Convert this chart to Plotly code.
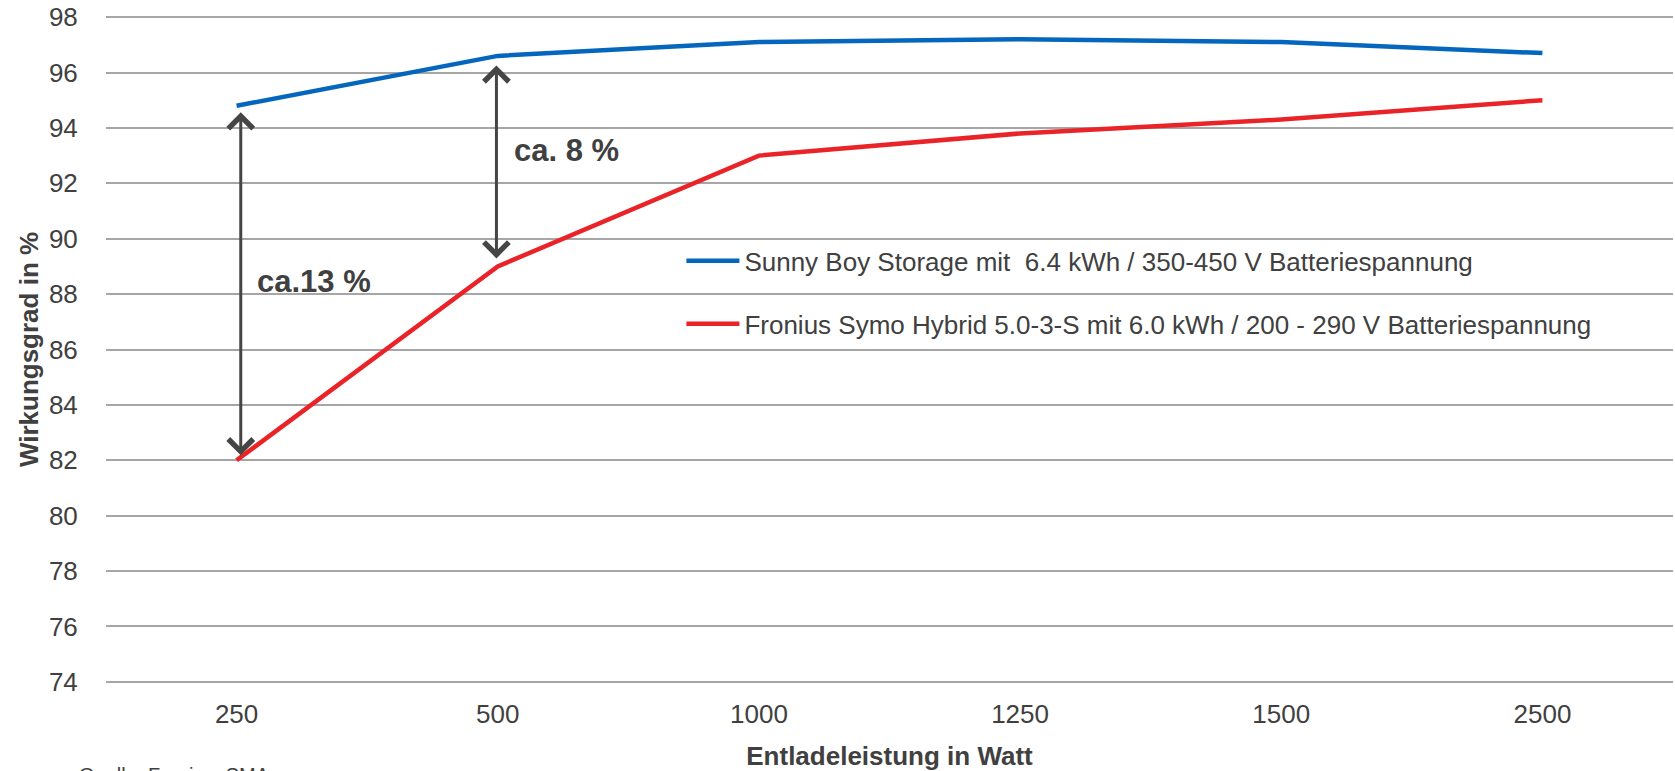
import plotly.graph_objects as go

# ---- data ----
categories = ["250", "500", "1000", "1250", "1500", "2500"]
sunny_boy = [94.8, 96.6, 97.1, 97.2, 97.1, 96.7]
fronius = [82.0, 89.0, 93.0, 93.8, 94.3, 95.0]
y_tick_values = [74, 76, 78, 80, 82, 84, 86, 88, 90, 92, 94, 96, 98]
series_names = [
    "Sunny Boy Storage mit \u00a06.4 kWh / 350-450 V Batteriespannung",
    "Fronius Symo Hybrid 5.0-3-S mit 6.0 kWh / 200 - 290 V Batteriespannung",
]
gap_labels = ["ca.13 %", "ca. 8 %"]
x_title = "Entladeleistung in Watt"
y_title = "Wirkungsgrad in %"
source_text = "Quelle: Fronius, SMA"

FONT = "Arial, 'Liberation Sans', sans-serif"
TXT = "#404040"
BLUE = "#0566BE"
RED = "#EA2328"

fig = go.Figure()
fig.add_trace(go.Scatter(x=categories, y=sunny_boy, mode="lines", name=series_names[0],
                         legendgroup="a", line=dict(color=BLUE, width=4.5)))
fig.add_trace(go.Scatter(x=categories, y=fronius, mode="lines", name=series_names[1],
                         legendgroup="b", line=dict(color=RED, width=4.5)))

# double-headed gap arrows between the two series: (category index, x nudge, standoffs)
arrow_specs = [(0, 0.016, 5, 5), (1, -0.005, 8, 8)]
for idx, nudge, so_end, so_start in arrow_specs:
    fig.add_annotation(x=idx + nudge, y=fronius[idx], ax=idx + nudge, ay=sunny_boy[idx],
                       xref="x", yref="y", axref="x", ayref="y", text="",
                       showarrow=True, arrowside="end+start", arrowhead=4,
                       startarrowhead=4, arrowsize=1.6, startarrowsize=1.6,
                       arrowwidth=3, arrowcolor="#454545",
                       standoff=so_end, startstandoff=so_start)

fig.add_annotation(x=0.07, y=88.44, xref="x", yref="y", text="<b>" + gap_labels[0] + "</b>",
                   showarrow=False, xanchor="left", yanchor="middle",
                   font=dict(family=FONT, size=31, color="#404040"))
fig.add_annotation(x=1.055, y=93.19, xref="x", yref="y", text="<b>" + gap_labels[1] + "</b>",
                   showarrow=False, xanchor="left", yanchor="middle",
                   font=dict(family=FONT, size=31, color="#404040"))

fig.add_annotation(x=-0.0185, y=-0.1177, xref="paper", yref="paper", text=source_text,
                   showarrow=False, xanchor="left", yanchor="top",
                   font=dict(family=FONT, size=20, color=TXT))

fig.update_layout(
    width=1675, height=771,
    margin=dict(l=106, r=2, t=16, b=88),
    paper_bgcolor="white", plot_bgcolor="white",
    font=dict(family=FONT, size=26, color=TXT),
    showlegend=True,
    legend=dict(x=0.3672, y=0.668, xanchor="left", yanchor="top",
                traceorder="grouped", tracegroupgap=26, itemwidth=53,
                bgcolor="rgba(0,0,0,0)", font=dict(family=FONT, size=26, color=TXT)),
    xaxis=dict(type="category", range=[-0.5, 5.5], showgrid=False, zeroline=False,
               showline=False, ticks="outside", ticklen=8, tickcolor="rgba(0,0,0,0)",
               tickfont=dict(family=FONT, size=26, color=TXT),
               title=dict(text="<b>" + x_title + "</b>", standoff=18,
                          font=dict(family=FONT, size=26, color=TXT))),
    yaxis=dict(range=[73.96, 98.04], tickvals=y_tick_values, showgrid=True, gridcolor="#A6A6A6",
               gridwidth=2, zeroline=False, showline=False, ticks="outside", ticklen=22,
               tickcolor="rgba(0,0,0,0)",
               tickfont=dict(family=FONT, size=26, color=TXT),
               title=dict(text="<b>" + y_title + "</b>", standoff=2,
                          font=dict(family=FONT, size=26, color=TXT))),
)

fig.write_html("out.html")
